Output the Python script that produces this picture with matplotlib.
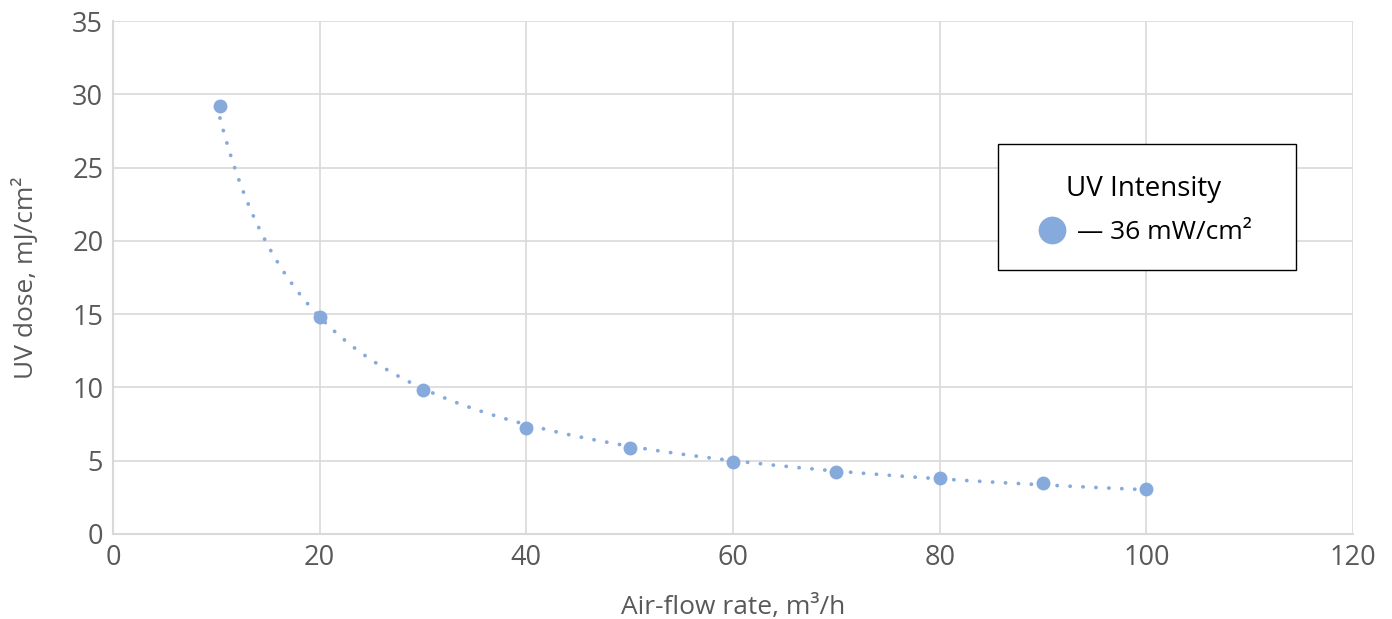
import numpy as np
import matplotlib
matplotlib.use("Agg")
import matplotlib.pyplot as plt
from matplotlib.patches import Rectangle

plt.rcParams['font.family'] = ['Open Sans', 'DejaVu Sans']

# Data
airflow = [10.35, 20, 30, 40, 50, 60, 70, 80, 90, 100]
uv_dose = [29.2, 14.8, 9.82, 7.23, 5.87, 4.91, 4.23, 3.82, 3.48, 3.07]
x_ticks = [0, 20, 40, 60, 80, 100, 120]
y_ticks = [0, 5, 10, 15, 20, 25, 30, 35]
series_label = "— 36 mW/cm²"
legend_title = "UV Intensity"

color = '#86AADC'
grid_c = '#D9D9D9'
tick_c = '#595959'

W, H = 1392, 619
fig = plt.figure(figsize=(W/100, H/100), dpi=100)
ax = fig.add_axes([113/W, 1-534/H, (1353-113)/W, (534-21)/H])

# Power trendline fitted to data
xa = np.array(airflow); ya = np.array(uv_dose)
b, a = np.polyfit(np.log(xa), np.log(ya), 1)
xf = np.linspace(xa.min(), xa.max(), 300)
yf = np.exp(a) * xf ** b
ax.plot(xf, yf, color=color, lw=2.7, linestyle=(0, (0.05, 3.4)),
        dash_capstyle='round', zorder=2)

h, = ax.plot(airflow, uv_dose, 'o', color=color, markersize=10,
             markeredgewidth=0, zorder=3, label=series_label)

ax.set_xlim(0, 120)
ax.set_ylim(0, 35)
ax.set_xticks(x_ticks)
ax.set_yticks(y_ticks)
ax.grid(True, color=grid_c, lw=1.2)
ax.set_axisbelow(True)
for s in ['top', 'right']:
    ax.spines[s].set_visible(False)
for s in ['left', 'bottom']:
    ax.spines[s].set_color(grid_c)
    ax.spines[s].set_linewidth(1.5)
ax.tick_params(length=0, labelsize=19.5, colors=tick_c, pad=7)

ax.set_xlabel("Air-flow rate, m³/h", fontsize=19, color=tick_c, labelpad=17)
ax.set_ylabel("UV dose, mJ/cm²", fontsize=19, color=tick_c, labelpad=24)

# Legend box
bx0, by0, bx1, by1 = 998, 144, 1296, 270
box = Rectangle((bx0/W, 1-by1/H), (bx1-bx0)/W, (by1-by0)/H,
                transform=fig.transFigure, facecolor='white',
                edgecolor='black', lw=1.0, zorder=5, clip_on=False)
ax.add_patch(box)

leg = ax.legend(handles=[h], title=legend_title, loc='center',
                bbox_to_anchor=((bx0+bx1)/2/W - 3/W, 1-(by0+by1)/2/H - 3/H),
                bbox_transform=fig.transFigure,
                fontsize=19, title_fontsize=20, frameon=False,
                markerscale=2.0, handletextpad=0.35, handlelength=1.2,
                borderpad=0, labelspacing=0.5, borderaxespad=0)
leg._legend_box.sep = 12
leg.set_zorder(6)

fig.savefig('out.png', dpi=100)
